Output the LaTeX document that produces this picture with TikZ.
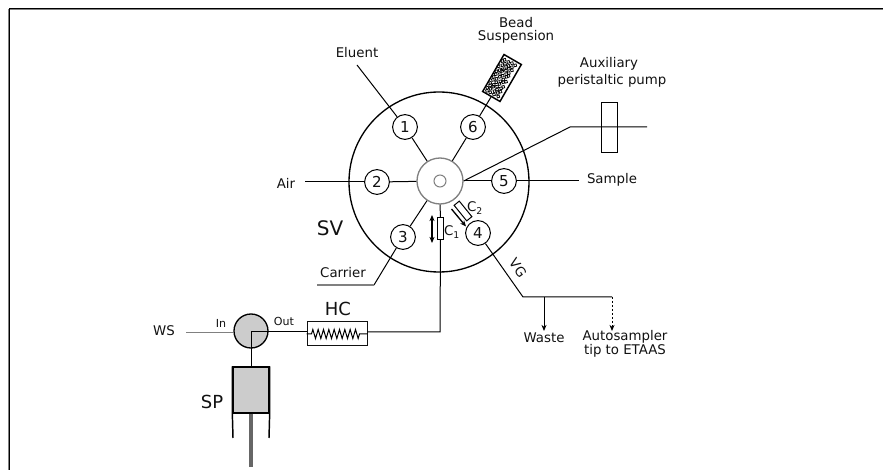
\documentclass[tikz,border=0pt]{standalone}
\usepackage{fontspec}
\setmainfont{DejaVu Sans}
\usetikzlibrary{arrows.meta,calc,decorations.pathmorphing}
\definecolor{ValveGrey}{HTML}{808080}
\definecolor{BodyFill}{HTML}{CCCCCC}
\definecolor{RodGrey}{HTML}{666666}
\definecolor{TextDark}{HTML}{111111}
\tikzset{>={Stealth[length=4.6pt,width=3.8pt]},every node/.style={font=\fontsize{10}{10.6}\selectfont,
 text=TextDark,align=center,inner sep=0pt},pipe/.style={draw=black,line width=.75pt},
 port/.style={circle,draw=black,fill=white,line width=.75pt,minimum size=18.6pt,font=\fontsize{11.3}{12}\selectfont},
 biglab/.style={font=\fontsize{13.5}{14}\selectfont},smalllab/.style={font=\fontsize{8.3}{9}\selectfont}}

\begin{document}
\begin{tikzpicture}[x=.75pt,y=-.75pt]
\useasboundingbox (0,0) rectangle (883,470);
\draw[ValveGrey,line width=.75pt] (8.5,470)--(8.5,9.5)--(883,9.5);
\draw[black,line width=.75pt] (9.5,470)--(9.5,8.5)--(883,8.5);
\node[circle,draw=black,line width=1pt,minimum size=135pt] (sv) at (439,182) {};
\node[circle,draw=ValveGrey,fill=white,line width=1pt,minimum size=34.5pt] (rotor) at (440,181) {};
\node[circle,draw=ValveGrey,line width=.75pt,minimum size=9pt] (bore) at (440,181) {};
\foreach \n/\x/\y in {1/405/127,2/377/182,3/403/237,4/478/233,5/504/181,6/473/127}
 {\node[port] (port\n) at (\x,\y) {\n};}
\foreach \n in {1,2,3,6}{\draw[pipe] (rotor)--(port\n);}
\draw[pipe] (rotor.east)--(port5);
\coordinate (eluentend) at (357,65);
\coordinate (airend) at (305,182);
\coordinate (sampleend) at (579,181);
\coordinate (carrierknee) at (374,285);
\coordinate (carrierend) at (317,285);
\draw[pipe] (eluentend)--(port1);
\draw[pipe] (airend)--(port2);
\draw[pipe] (port5)--(sampleend);
\draw[pipe] (port3)--(carrierknee);
\draw[ValveGrey,line width=1pt] (carrierknee)--(carrierend);
\node at (357,53) {Eluent};
\node at (286,183) {Air};
\node at (612,180) {Sample};
\node at (343,273) {Carrier};
\node[biglab,font=\fontsize{15}{15}\selectfont] at (330,228) {SV};
\node[draw=black,fill=white,rotate=60,minimum width=32pt,minimum height=15pt,line width=1.1pt] (bead) at (502,78) {};
\pgfmathsetseed{7}
\begin{scope}[shift={(bead.center)},rotate=60]
\foreach \a [count=\i] in {-18.5,-15.5,...,18.5}
 \foreach \b in {-7.5,-3.5,...,7.5}
  {\pgfmathsetmacro{\ax}{\a+rand*.9}
   \pgfmathsetmacro{\bx}{\b+mod(\i,2)*1.6-.8+rand*.7}
   \draw[black,line width=.55pt] (\ax,\bx) circle (1.7);}
\end{scope}
\draw[pipe] (port6)--(bead.west);
\node at (516,23) {Bead};
\node at (516,37) {Suspension};
\node[draw=black,fill=white,line width=.75pt,minimum width=12pt,minimum height=38pt] (aux) at (609,127.5) {};
\coordinate (auxknee) at (570,127);
\coordinate (auxend) at (647,127);
\draw[pipe] (rotor.east)--(auxknee)--(auxend);
\node at (609,64) {Auxiliary};
\node at (612,81) {peristaltic pump};
\node[draw=black,fill=white,line width=.75pt,minimum width=4.5pt,minimum height=16pt] (cone) at (440.5,228.5) {};
\coordinate (outcorner) at (440,332);
\node[draw=TextDark,fill=white,line width=.75pt,minimum width=45pt,minimum height=18pt] (hc) at (337,334) {};
\node[biglab] at (338,309) {HC};
\draw[pipe] (rotor.south)--(cone.north);
\draw[pipe] (cone.south)--(outcorner)--(hc.east |- outcorner);
\draw[black,line width=.75pt,decorate,decoration={zigzag,segment length=4pt,amplitude=3.4pt,pre length=3.75pt,post length=4.5pt}] (hc.west)--(hc.east);
\coordinate (coneupper) at (432,215);
\coordinate (conelower) at (432,243);
\draw[pipe,line width=1pt,<->] (coneupper)--(conelower);
\node at (452,232) {C\textsubscript{1}};
\node[draw=black,fill=white,rotate=-51,line width=.75pt,minimum width=15pt,minimum height=5pt] (ctwo) at (463,211) {};
\coordinate (ctwostart) at (451.5,209);
\coordinate (ctwoend) at (466,226.5);
\draw[pipe,line width=1pt,->] (ctwostart)--(ctwoend);
\node at (475,208) {C\textsubscript{2}};
\coordinate (vgknee) at (523,297);
\coordinate (wastetee) at (544,297);
\coordinate (wasteend) at (544,331);
\coordinate (tipknee) at (612,297);
\coordinate (tipend) at (612,331);
\draw[pipe] (port4)--(vgknee)--(tipknee);
\draw[pipe,->] (wastetee)--(wasteend);
\draw[pipe,dash pattern=on 1.5pt off 1.5pt,->] (tipknee)--(tipend);
\node[rotate=-55] at (518,268) {VG};
\node at (544,338) {Waste};
\node at (625,344) {Autosampler\\tip to ETAAS};
\node[circle,draw=black,fill=BodyFill,line width=1pt,minimum size=25.5pt] (hv) at (251,331) {};
\coordinate (wsend) at (186,333);
\draw[ValveGrey,line width=.75pt] (wsend)--(hv.west |- wsend);
\draw[pipe] (hv.center |- outcorner)--(hc.west |- outcorner);
\node[draw=black,fill=BodyFill,line width=1pt,minimum width=27pt,minimum height=34.5pt] (sp) at (251,390) {};
\draw[pipe] (hv.center |- outcorner)--(sp.north);
\coordinate (wallleft) at (233,438);
\coordinate (wallright) at (269,438);
\coordinate (rodend) at (251,467);
\draw[black,line width=1.1pt] (sp.south west)--(wallleft) (sp.south east)--(wallright)
 (sp.north west)--(sp.south west) (sp.north east)--(sp.south east);
\draw[RodGrey,line width=3.6pt] (sp.south)--(rodend);
\node at (164,331) {WS};
\node[smalllab] at (221,323) {In};
\node[smalllab] at (284,321) {Out};
\node[biglab] at (212,402) {SP};
\end{tikzpicture}
\end{document}
